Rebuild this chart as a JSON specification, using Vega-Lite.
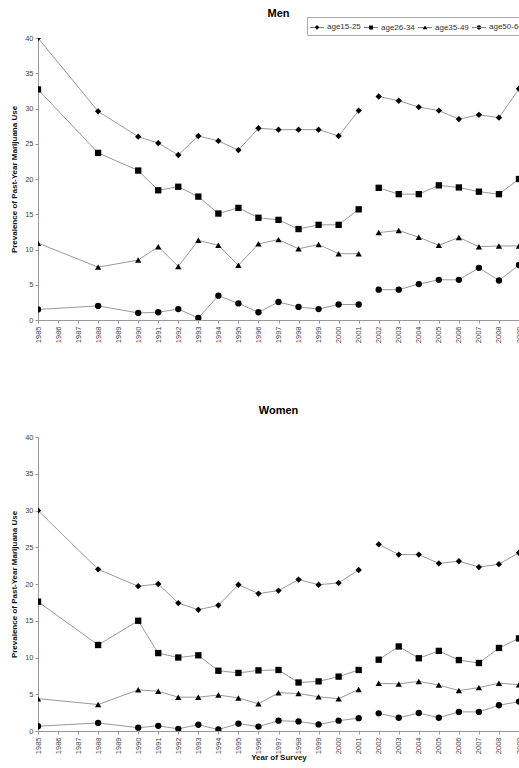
{
  "$schema": "https://vega.github.io/schema/vega-lite/v6.json",
  "padding": {"left": 10, "top": 7, "right": 0, "bottom": 0},
  "background": "white",
  "config": {
    "font": "Liberation Sans",
    "view": {"stroke": null},
    "title": {"fontSize": 11, "fontWeight": "bold", "color": "#000"},
    "axis": {"grid": false, "domainColor": "#999", "tickColor": "#999", "labelColor": "#444", "labelFontSize": 7.5, "tickSize": 3, "titleFontSize": 8, "titleFontWeight": "bold", "titleColor": "#111"}
  },
  "data": {"values": [
    {"sex":"Men","group":"age15-25","year":1985,"value":40.0,"period":1},
    {"sex":"Men","group":"age15-25","year":1988,"value":29.6,"period":1},
    {"sex":"Men","group":"age15-25","year":1990,"value":26.0,"period":1},
    {"sex":"Men","group":"age15-25","year":1991,"value":25.1,"period":1},
    {"sex":"Men","group":"age15-25","year":1992,"value":23.4,"period":1},
    {"sex":"Men","group":"age15-25","year":1993,"value":26.1,"period":1},
    {"sex":"Men","group":"age15-25","year":1994,"value":25.4,"period":1},
    {"sex":"Men","group":"age15-25","year":1995,"value":24.1,"period":1},
    {"sex":"Men","group":"age15-25","year":1996,"value":27.2,"period":1},
    {"sex":"Men","group":"age15-25","year":1997,"value":27.0,"period":1},
    {"sex":"Men","group":"age15-25","year":1998,"value":27.0,"period":1},
    {"sex":"Men","group":"age15-25","year":1999,"value":27.0,"period":1},
    {"sex":"Men","group":"age15-25","year":2000,"value":26.1,"period":1},
    {"sex":"Men","group":"age15-25","year":2001,"value":29.7,"period":1},
    {"sex":"Men","group":"age15-25","year":2002,"value":31.7,"period":2},
    {"sex":"Men","group":"age15-25","year":2003,"value":31.1,"period":2},
    {"sex":"Men","group":"age15-25","year":2004,"value":30.2,"period":2},
    {"sex":"Men","group":"age15-25","year":2005,"value":29.7,"period":2},
    {"sex":"Men","group":"age15-25","year":2006,"value":28.5,"period":2},
    {"sex":"Men","group":"age15-25","year":2007,"value":29.1,"period":2},
    {"sex":"Men","group":"age15-25","year":2008,"value":28.7,"period":2},
    {"sex":"Men","group":"age15-25","year":2009,"value":32.8,"period":2},
    {"sex":"Men","group":"age26-34","year":1985,"value":32.7,"period":1},
    {"sex":"Men","group":"age26-34","year":1988,"value":23.7,"period":1},
    {"sex":"Men","group":"age26-34","year":1990,"value":21.2,"period":1},
    {"sex":"Men","group":"age26-34","year":1991,"value":18.4,"period":1},
    {"sex":"Men","group":"age26-34","year":1992,"value":18.9,"period":1},
    {"sex":"Men","group":"age26-34","year":1993,"value":17.5,"period":1},
    {"sex":"Men","group":"age26-34","year":1994,"value":15.1,"period":1},
    {"sex":"Men","group":"age26-34","year":1995,"value":15.9,"period":1},
    {"sex":"Men","group":"age26-34","year":1996,"value":14.5,"period":1},
    {"sex":"Men","group":"age26-34","year":1997,"value":14.2,"period":1},
    {"sex":"Men","group":"age26-34","year":1998,"value":12.9,"period":1},
    {"sex":"Men","group":"age26-34","year":1999,"value":13.5,"period":1},
    {"sex":"Men","group":"age26-34","year":2000,"value":13.5,"period":1},
    {"sex":"Men","group":"age26-34","year":2001,"value":15.7,"period":1},
    {"sex":"Men","group":"age26-34","year":2002,"value":18.75,"period":2},
    {"sex":"Men","group":"age26-34","year":2003,"value":17.85,"period":2},
    {"sex":"Men","group":"age26-34","year":2004,"value":17.85,"period":2},
    {"sex":"Men","group":"age26-34","year":2005,"value":19.1,"period":2},
    {"sex":"Men","group":"age26-34","year":2006,"value":18.8,"period":2},
    {"sex":"Men","group":"age26-34","year":2007,"value":18.2,"period":2},
    {"sex":"Men","group":"age26-34","year":2008,"value":17.85,"period":2},
    {"sex":"Men","group":"age26-34","year":2009,"value":20.0,"period":2},
    {"sex":"Men","group":"age35-49","year":1985,"value":10.9,"period":1},
    {"sex":"Men","group":"age35-49","year":1988,"value":7.5,"period":1},
    {"sex":"Men","group":"age35-49","year":1990,"value":8.5,"period":1},
    {"sex":"Men","group":"age35-49","year":1991,"value":10.4,"period":1},
    {"sex":"Men","group":"age35-49","year":1992,"value":7.6,"period":1},
    {"sex":"Men","group":"age35-49","year":1993,"value":11.3,"period":1},
    {"sex":"Men","group":"age35-49","year":1994,"value":10.6,"period":1},
    {"sex":"Men","group":"age35-49","year":1995,"value":7.75,"period":1},
    {"sex":"Men","group":"age35-49","year":1996,"value":10.8,"period":1},
    {"sex":"Men","group":"age35-49","year":1997,"value":11.4,"period":1},
    {"sex":"Men","group":"age35-49","year":1998,"value":10.1,"period":1},
    {"sex":"Men","group":"age35-49","year":1999,"value":10.7,"period":1},
    {"sex":"Men","group":"age35-49","year":2000,"value":9.4,"period":1},
    {"sex":"Men","group":"age35-49","year":2001,"value":9.4,"period":1},
    {"sex":"Men","group":"age35-49","year":2002,"value":12.4,"period":2},
    {"sex":"Men","group":"age35-49","year":2003,"value":12.7,"period":2},
    {"sex":"Men","group":"age35-49","year":2004,"value":11.75,"period":2},
    {"sex":"Men","group":"age35-49","year":2005,"value":10.6,"period":2},
    {"sex":"Men","group":"age35-49","year":2006,"value":11.7,"period":2},
    {"sex":"Men","group":"age35-49","year":2007,"value":10.4,"period":2},
    {"sex":"Men","group":"age35-49","year":2008,"value":10.5,"period":2},
    {"sex":"Men","group":"age35-49","year":2009,"value":10.5,"period":2},
    {"sex":"Men","group":"age50-64","year":1985,"value":1.5,"period":1},
    {"sex":"Men","group":"age50-64","year":1988,"value":2.0,"period":1},
    {"sex":"Men","group":"age50-64","year":1990,"value":1.0,"period":1},
    {"sex":"Men","group":"age50-64","year":1991,"value":1.1,"period":1},
    {"sex":"Men","group":"age50-64","year":1992,"value":1.55,"period":1},
    {"sex":"Men","group":"age50-64","year":1993,"value":0.3,"period":1},
    {"sex":"Men","group":"age50-64","year":1994,"value":3.45,"period":1},
    {"sex":"Men","group":"age50-64","year":1995,"value":2.35,"period":1},
    {"sex":"Men","group":"age50-64","year":1996,"value":1.1,"period":1},
    {"sex":"Men","group":"age50-64","year":1997,"value":2.55,"period":1},
    {"sex":"Men","group":"age50-64","year":1998,"value":1.85,"period":1},
    {"sex":"Men","group":"age50-64","year":1999,"value":1.55,"period":1},
    {"sex":"Men","group":"age50-64","year":2000,"value":2.2,"period":1},
    {"sex":"Men","group":"age50-64","year":2001,"value":2.2,"period":1},
    {"sex":"Men","group":"age50-64","year":2002,"value":4.3,"period":2},
    {"sex":"Men","group":"age50-64","year":2003,"value":4.3,"period":2},
    {"sex":"Men","group":"age50-64","year":2004,"value":5.1,"period":2},
    {"sex":"Men","group":"age50-64","year":2005,"value":5.7,"period":2},
    {"sex":"Men","group":"age50-64","year":2006,"value":5.7,"period":2},
    {"sex":"Men","group":"age50-64","year":2007,"value":7.4,"period":2},
    {"sex":"Men","group":"age50-64","year":2008,"value":5.6,"period":2},
    {"sex":"Men","group":"age50-64","year":2009,"value":7.8,"period":2},
    {"sex":"Women","group":"age15-25","year":1985,"value":30.0,"period":1},
    {"sex":"Women","group":"age15-25","year":1988,"value":22.0,"period":1},
    {"sex":"Women","group":"age15-25","year":1990,"value":19.7,"period":1},
    {"sex":"Women","group":"age15-25","year":1991,"value":20.0,"period":1},
    {"sex":"Women","group":"age15-25","year":1992,"value":17.4,"period":1},
    {"sex":"Women","group":"age15-25","year":1993,"value":16.5,"period":1},
    {"sex":"Women","group":"age15-25","year":1994,"value":17.1,"period":1},
    {"sex":"Women","group":"age15-25","year":1995,"value":19.9,"period":1},
    {"sex":"Women","group":"age15-25","year":1996,"value":18.7,"period":1},
    {"sex":"Women","group":"age15-25","year":1997,"value":19.1,"period":1},
    {"sex":"Women","group":"age15-25","year":1998,"value":20.6,"period":1},
    {"sex":"Women","group":"age15-25","year":1999,"value":19.9,"period":1},
    {"sex":"Women","group":"age15-25","year":2000,"value":20.15,"period":1},
    {"sex":"Women","group":"age15-25","year":2001,"value":21.9,"period":1},
    {"sex":"Women","group":"age15-25","year":2002,"value":25.4,"period":2},
    {"sex":"Women","group":"age15-25","year":2003,"value":24.0,"period":2},
    {"sex":"Women","group":"age15-25","year":2004,"value":24.0,"period":2},
    {"sex":"Women","group":"age15-25","year":2005,"value":22.8,"period":2},
    {"sex":"Women","group":"age15-25","year":2006,"value":23.1,"period":2},
    {"sex":"Women","group":"age15-25","year":2007,"value":22.3,"period":2},
    {"sex":"Women","group":"age15-25","year":2008,"value":22.7,"period":2},
    {"sex":"Women","group":"age15-25","year":2009,"value":24.25,"period":2},
    {"sex":"Women","group":"age26-34","year":1985,"value":17.6,"period":1},
    {"sex":"Women","group":"age26-34","year":1988,"value":11.7,"period":1},
    {"sex":"Women","group":"age26-34","year":1990,"value":15.0,"period":1},
    {"sex":"Women","group":"age26-34","year":1991,"value":10.6,"period":1},
    {"sex":"Women","group":"age26-34","year":1992,"value":10.0,"period":1},
    {"sex":"Women","group":"age26-34","year":1993,"value":10.3,"period":1},
    {"sex":"Women","group":"age26-34","year":1994,"value":8.2,"period":1},
    {"sex":"Women","group":"age26-34","year":1995,"value":7.9,"period":1},
    {"sex":"Women","group":"age26-34","year":1996,"value":8.25,"period":1},
    {"sex":"Women","group":"age26-34","year":1997,"value":8.3,"period":1},
    {"sex":"Women","group":"age26-34","year":1998,"value":6.6,"period":1},
    {"sex":"Women","group":"age26-34","year":1999,"value":6.75,"period":1},
    {"sex":"Women","group":"age26-34","year":2000,"value":7.4,"period":1},
    {"sex":"Women","group":"age26-34","year":2001,"value":8.3,"period":1},
    {"sex":"Women","group":"age26-34","year":2002,"value":9.7,"period":2},
    {"sex":"Women","group":"age26-34","year":2003,"value":11.5,"period":2},
    {"sex":"Women","group":"age26-34","year":2004,"value":9.9,"period":2},
    {"sex":"Women","group":"age26-34","year":2005,"value":10.9,"period":2},
    {"sex":"Women","group":"age26-34","year":2006,"value":9.65,"period":2},
    {"sex":"Women","group":"age26-34","year":2007,"value":9.25,"period":2},
    {"sex":"Women","group":"age26-34","year":2008,"value":11.3,"period":2},
    {"sex":"Women","group":"age26-34","year":2009,"value":12.6,"period":2},
    {"sex":"Women","group":"age35-49","year":1985,"value":4.4,"period":1},
    {"sex":"Women","group":"age35-49","year":1988,"value":3.6,"period":1},
    {"sex":"Women","group":"age35-49","year":1990,"value":5.6,"period":1},
    {"sex":"Women","group":"age35-49","year":1991,"value":5.4,"period":1},
    {"sex":"Women","group":"age35-49","year":1992,"value":4.6,"period":1},
    {"sex":"Women","group":"age35-49","year":1993,"value":4.6,"period":1},
    {"sex":"Women","group":"age35-49","year":1994,"value":4.9,"period":1},
    {"sex":"Women","group":"age35-49","year":1995,"value":4.5,"period":1},
    {"sex":"Women","group":"age35-49","year":1996,"value":3.7,"period":1},
    {"sex":"Women","group":"age35-49","year":1997,"value":5.2,"period":1},
    {"sex":"Women","group":"age35-49","year":1998,"value":5.1,"period":1},
    {"sex":"Women","group":"age35-49","year":1999,"value":4.65,"period":1},
    {"sex":"Women","group":"age35-49","year":2000,"value":4.4,"period":1},
    {"sex":"Women","group":"age35-49","year":2001,"value":5.65,"period":1},
    {"sex":"Women","group":"age35-49","year":2002,"value":6.5,"period":2},
    {"sex":"Women","group":"age35-49","year":2003,"value":6.4,"period":2},
    {"sex":"Women","group":"age35-49","year":2004,"value":6.75,"period":2},
    {"sex":"Women","group":"age35-49","year":2005,"value":6.25,"period":2},
    {"sex":"Women","group":"age35-49","year":2006,"value":5.5,"period":2},
    {"sex":"Women","group":"age35-49","year":2007,"value":5.9,"period":2},
    {"sex":"Women","group":"age35-49","year":2008,"value":6.5,"period":2},
    {"sex":"Women","group":"age35-49","year":2009,"value":6.3,"period":2},
    {"sex":"Women","group":"age50-64","year":1985,"value":0.65,"period":1},
    {"sex":"Women","group":"age50-64","year":1988,"value":1.1,"period":1},
    {"sex":"Women","group":"age50-64","year":1990,"value":0.45,"period":1},
    {"sex":"Women","group":"age50-64","year":1991,"value":0.7,"period":1},
    {"sex":"Women","group":"age50-64","year":1992,"value":0.3,"period":1},
    {"sex":"Women","group":"age50-64","year":1993,"value":0.85,"period":1},
    {"sex":"Women","group":"age50-64","year":1994,"value":0.2,"period":1},
    {"sex":"Women","group":"age50-64","year":1995,"value":1.0,"period":1},
    {"sex":"Women","group":"age50-64","year":1996,"value":0.6,"period":1},
    {"sex":"Women","group":"age50-64","year":1997,"value":1.4,"period":1},
    {"sex":"Women","group":"age50-64","year":1998,"value":1.3,"period":1},
    {"sex":"Women","group":"age50-64","year":1999,"value":0.9,"period":1},
    {"sex":"Women","group":"age50-64","year":2000,"value":1.4,"period":1},
    {"sex":"Women","group":"age50-64","year":2001,"value":1.75,"period":1},
    {"sex":"Women","group":"age50-64","year":2002,"value":2.4,"period":2},
    {"sex":"Women","group":"age50-64","year":2003,"value":1.8,"period":2},
    {"sex":"Women","group":"age50-64","year":2004,"value":2.45,"period":2},
    {"sex":"Women","group":"age50-64","year":2005,"value":1.8,"period":2},
    {"sex":"Women","group":"age50-64","year":2006,"value":2.6,"period":2},
    {"sex":"Women","group":"age50-64","year":2007,"value":2.6,"period":2},
    {"sex":"Women","group":"age50-64","year":2008,"value":3.5,"period":2},
    {"sex":"Women","group":"age50-64","year":2009,"value":4.0,"period":2}
  ]},
  "resolve": {"scale": {"shape": "independent"}, "legend": {"shape": "independent"}},
  "spacing": 62,
  "vconcat": [
    {
      "title": {"text": "Men", "offset": -2},
      "width": 481,
      "height": 282,
      "transform": [{"filter": "datum.sex === 'Men'"}],
      "encoding": {
        "x": {"field": "year", "type": "quantitative", "scale": {"domain": [1985, 2009], "nice": false, "zero": false},
              "axis": {"title": null, "values": [1985,1986,1987,1988,1989,1990,1991,1992,1993,1994,1995,1996,1997,1998,1999,2000,2001,2002,2003,2004,2005,2006,2007,2008,2009], "format": "d", "labelAngle": 270, "labelPadding": 3}},
        "y": {"field": "value", "type": "quantitative", "scale": {"domain": [0, 40], "nice": false},
              "axis": {"title": "Prevalence of Past-Year Marijuana Use", "values": [0,5,10,15,20,25,30,35,40], "titlePadding": 6}}
      },
      "resolve": {"scale": {"shape": "independent"}, "legend": {"shape": "independent"}},
      "layer": [
        {"mark": {"type": "line", "color": "#999", "strokeWidth": 1, "clip": true},
         "encoding": {"detail": [{"field": "group"}, {"field": "period"}]}},
        {"mark": {"type": "point", "filled": true, "color": "#000", "size": 40, "opacity": 1, "clip": true},
         "encoding": {"shape": {"field": "group", "type": "nominal",
           "scale": {"domain": ["age15-25", "age26-34", "age35-49", "age50-64"], "range": ["diamond", "square", "triangle-up", "circle"]},
           "legend": null}}},
        {"transform": [{"filter": "datum.year < 0"}],
         "mark": {"type": "point", "filled": true, "color": "#000"},
         "encoding": {"shape": {"field": "group", "type": "nominal",
           "scale": {"domain": ["age15-25", "age26-34", "age35-49", "age50-64"],
                     "range": ["M-1,-0.04L1,-0.04L1,0.04L-1,0.04ZM0,-0.34L0.34,0L0,0.34L-0.34,0Z", "M-1,-0.04L1,-0.04L1,0.04L-1,0.04ZM-0.28,-0.28L0.28,-0.28L0.28,0.28L-0.28,0.28Z", "M-1,-0.04L1,-0.04L1,0.04L-1,0.04ZM0,-0.32L0.34,0.24L-0.34,0.24Z", "M-1,-0.04L1,-0.04L1,0.04L-1,0.04ZM-0.3,0A0.3,0.3 0 1,0 0.3,0A0.3,0.3 0 1,0 -0.3,0Z"]},
           "legend": {"title": null, "orient": "none", "legendX": 269, "legendY": -21, "direction": "horizontal", "columns": 4,
             "labelFontSize": 8, "labelColor": "#333", "symbolSize": 196, "symbolFillColor": "#000", "symbolOpacity": 1,
             "strokeColor": "#aaa", "padding": 2, "columnPadding": 0, "labelOffset": 2, "symbolOffset": 0}}}}
      ]
    },
    {
      "title": {"text": "Women", "offset": 17},
      "width": 481,
      "height": 294,
      "transform": [{"filter": "datum.sex === 'Women'"}],
      "encoding": {
        "x": {"field": "year", "type": "quantitative", "scale": {"domain": [1985, 2009], "nice": false, "zero": false},
              "axis": {"title": "Year of Survey", "values": [1985,1986,1987,1988,1989,1990,1991,1992,1993,1994,1995,1996,1997,1998,1999,2000,2001,2002,2003,2004,2005,2006,2007,2008,2009], "format": "d", "labelAngle": 270, "labelPadding": 3, "titlePadding": 0}},
        "y": {"field": "value", "type": "quantitative", "scale": {"domain": [0, 40], "nice": false},
              "axis": {"title": "Prevalence of Past-Year Marijuana Use", "values": [0,5,10,15,20,25,30,35,40], "titlePadding": 6}}
      },
      "layer": [
        {"mark": {"type": "line", "color": "#999", "strokeWidth": 1, "clip": true},
         "encoding": {"detail": [{"field": "group"}, {"field": "period"}]}},
        {"mark": {"type": "point", "filled": true, "color": "#000", "size": 40, "opacity": 1, "clip": true},
         "encoding": {"shape": {"field": "group", "type": "nominal",
           "scale": {"domain": ["age15-25", "age26-34", "age35-49", "age50-64"], "range": ["diamond", "square", "triangle-up", "circle"]},
           "legend": null}}}
      ]
    }
  ]
}
